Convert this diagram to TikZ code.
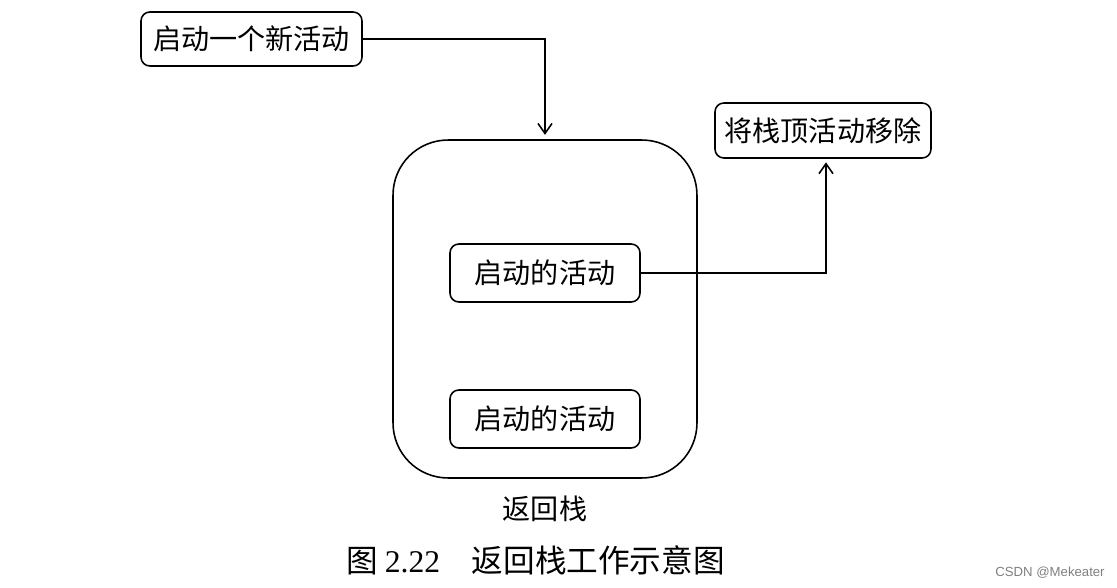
\documentclass[tikz,border=0pt]{standalone}
\usepackage{fontspec}
\setmainfont{Liberation Serif}
\newfontfamily\cjk{Noto Sans CJK SC}
\newfontfamily\wmfont{Liberation Sans}
\usetikzlibrary{arrows.meta,positioning}

\begin{document}
\begin{tikzpicture}[x=0.02cm,y=-0.02cm,>={Straight Barb[length=2mm,width=2.8mm]},line width=0.9pt,
  act node/.style={rectangle,draw,rounded corners=5pt,inner sep=0pt,font=\cjk\fontsize{16}{19}\selectfont}]
  \useasboundingbox (0,0) rectangle (1117,588);

  \node[act node, minimum width=4.42cm, minimum height=1.08cm] (start) at (251.5,39) {启动一个新活动};
  \node[draw, rounded corners=1.1cm, minimum width=6.08cm, minimum height=6.76cm] (stack) at (545,309) {};
  \node[act node, minimum width=3.8cm, minimum height=1.16cm] (act1) at (545,273) {启动的活动};
  \node[act node, minimum width=3.8cm, minimum height=1.16cm] (act2) at (545,419) {启动的活动};
  \node[act node, minimum width=4.32cm, minimum height=1.1cm] (remove) at (823,130.5) {将栈顶活动移除};

  \node[below=0.2cm of stack, font=\cjk\fontsize{16}{19}\selectfont] (label) {返回栈};
  \node[font=\cjk\fontsize{18}{22}\selectfont] (caption) at (535.5,560) {图 {\rmfamily 2.22}\quad 返回栈工作示意图};
  \node[font=\wmfont\fontsize{7.5}{9}\selectfont, text=gray] (mark) at (1050,573) {CSDN @Mekeater};

  \draw[->, shorten >=2.5pt] (start.east) -| (stack.north);
  \draw[->, shorten >=2pt] (act1.east) -| ([xshift=0.06cm]remove.south);
\end{tikzpicture}
\end{document}
